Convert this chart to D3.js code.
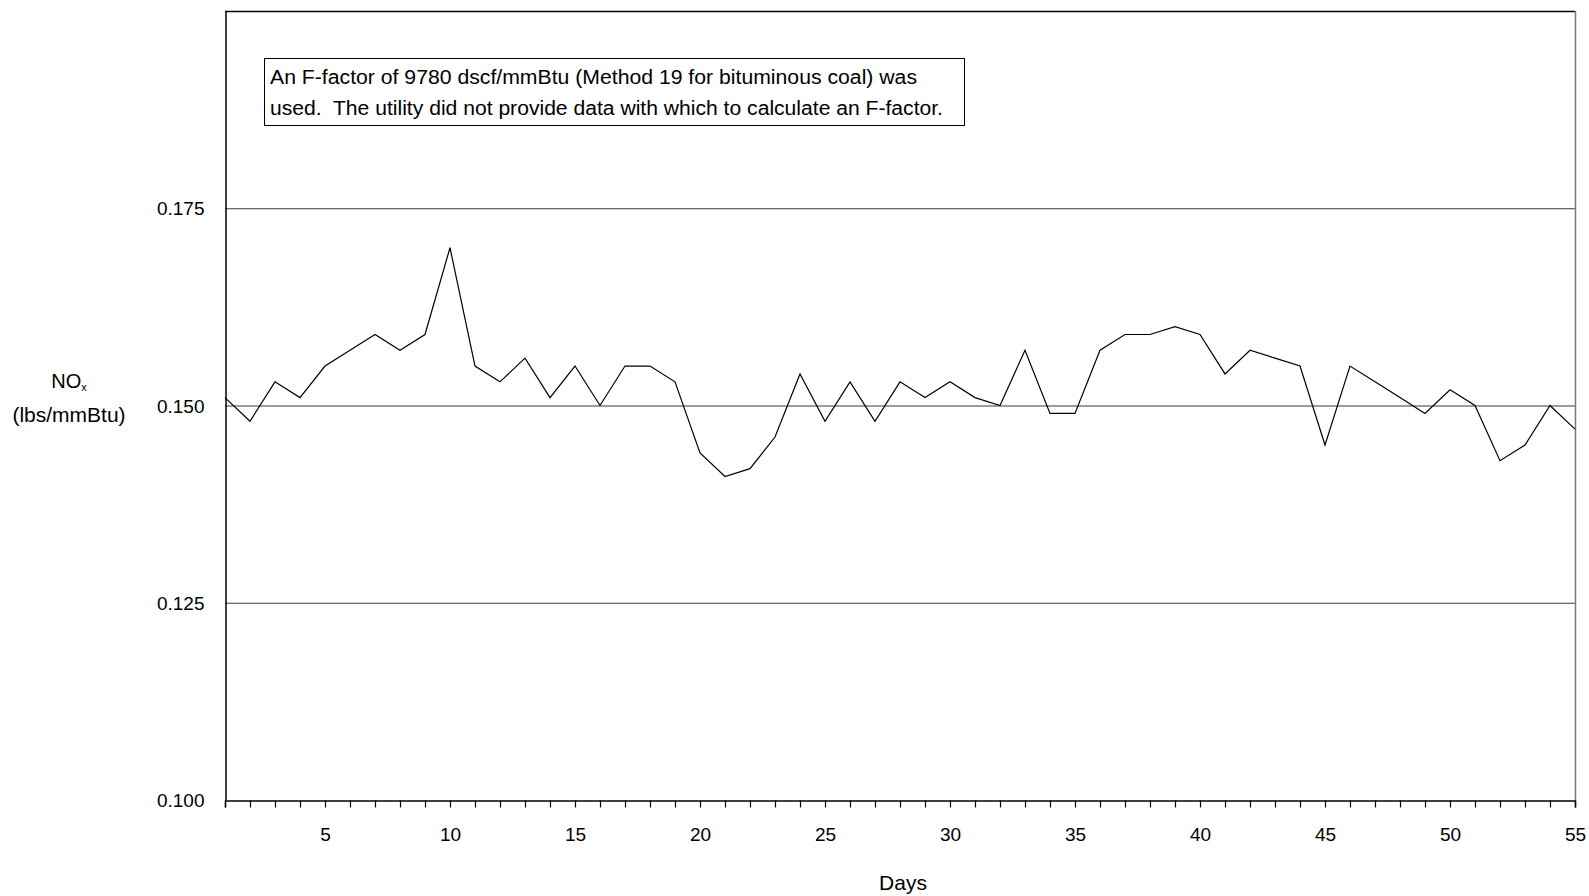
<!DOCTYPE html>
<html>
<head>
<meta charset="utf-8">
<script src="https://cdn.jsdelivr.net/npm/d3@7"></script>
<style>
  html, body { margin: 0; padding: 0; background: #fff; }
  svg { display: block; }
  text { font-family: "Liberation Sans", Arial, sans-serif; fill: #000; }
</style>
</head>
<body>
<svg id="chart" width="1589" height="896"></svg>
<script>
const days = d3.range(1, 56);
const noxValues = [
  0.151, 0.148, 0.153, 0.151, 0.155, 0.157, 0.159, 0.157, 0.159, 0.170,
  0.155, 0.153, 0.156, 0.151, 0.155, 0.150, 0.155, 0.155, 0.153, 0.144,
  0.141, 0.142, 0.146, 0.154, 0.148, 0.153, 0.148, 0.153, 0.151, 0.153,
  0.151, 0.150, 0.157, 0.149, 0.149, 0.157, 0.159, 0.159, 0.160, 0.159,
  0.154, 0.157, 0.156, 0.155, 0.145, 0.155, 0.153, 0.151, 0.149, 0.152,
  0.150, 0.143, 0.145, 0.150, 0.147
];
const yTicks = [0.100, 0.125, 0.150, 0.175];
const xLabelTicks = [5, 10, 15, 20, 25, 30, 35, 40, 45, 50, 55];
const noteLines = [
  "An F-factor of 9780 dscf/mmBtu (Method 19 for bituminous coal) was",
  "used.  The utility did not provide data with which to calculate an F-factor."
];

const svg = d3.select("#chart");
const mLeft = 225, mRight = 1575, mTop = 11, mBottom = 800;

const x = d3.scaleLinear().domain([1, 55]).range([mLeft, mRight]);
const y = d3.scaleLinear().domain([0.100, 0.200]).range([mBottom, mTop]);

// gridlines
svg.append("g")
  .selectAll("line")
  .data(yTicks.filter(d => d > 0.100))
  .join("line")
  .attr("x1", mLeft).attr("x2", mRight)
  .attr("y1", d => y(d) + 0.5).attr("y2", d => y(d) + 0.5)
  .attr("stroke", "#3a3a3a").attr("stroke-width", 1.2);

// frame: top and right
svg.append("line").attr("x1", mLeft).attr("x2", mRight).attr("y1", mTop + 0.5).attr("y2", mTop + 0.5)
  .attr("stroke", "#000").attr("stroke-width", 1.5);
svg.append("line").attr("x1", mRight + 0.5).attr("x2", mRight + 0.5).attr("y1", mTop).attr("y2", mBottom)
  .attr("stroke", "#777").attr("stroke-width", 1.5);

// y axis
const yAxis = d3.axisLeft(y).tickValues(yTicks).tickSize(0).tickPadding(21)
  .tickFormat(d3.format(".3f"));
const gy = svg.append("g").attr("transform", `translate(${mLeft + 0.5},0)`).call(yAxis);
gy.select(".domain").attr("stroke", "#000").attr("stroke-width", 1.5);
gy.selectAll("text").attr("font-size", 19).attr("font-family", "Liberation Sans, Arial, sans-serif")
  .attr("fill", "#000").attr("dy", "0.35em");

// x axis
const xAxis = d3.axisBottom(x).tickValues(days).tickSize(7).tickPadding(20)
  .tickFormat(d => xLabelTicks.includes(d) ? d : "");
const gx = svg.append("g").attr("transform", `translate(0,${mBottom + 0.5})`).call(xAxis);
gx.select(".domain").attr("stroke", "#000").attr("stroke-width", 1.5);
gx.selectAll(".tick line").attr("stroke", "#000").attr("stroke-width", 1.2);
gx.selectAll("text").attr("font-size", 19).attr("font-family", "Liberation Sans, Arial, sans-serif")
  .attr("fill", "#000");

// data line
const line = d3.line().x((d, i) => x(days[i])).y(d => y(d));
svg.append("path").datum(noxValues)
  .attr("d", line).attr("fill", "none").attr("stroke", "#000").attr("stroke-width", 1.2);

// axis titles
const yt = svg.append("text").attr("x", 69).attr("y", 388).attr("text-anchor", "middle").attr("font-size", 20);
yt.append("tspan").text("NO");
yt.append("tspan").attr("font-size", 11).attr("dy", 3).text("x");
svg.append("text").attr("x", 69).attr("y", 422).attr("text-anchor", "middle").attr("font-size", 21)
  .text("(lbs/mmBtu)");
svg.append("text").attr("x", 903).attr("y", 890).attr("text-anchor", "middle").attr("font-size", 21)
  .text("Days");

// annotation box
svg.append("rect").attr("x", 264.5).attr("y", 58.5).attr("width", 700).attr("height", 67)
  .attr("fill", "#fff").attr("stroke", "#000").attr("stroke-width", 1);
const widths = [647, 673];
noteLines.forEach((t, i) => {
  svg.append("text").attr("x", 270).attr("y", 84 + i * 31).attr("font-size", 20)
    .style("white-space", "pre")
    .attr("textLength", widths[i]).attr("lengthAdjust", "spacingAndGlyphs")
    .text(t);
});
</script>
</body>
</html>
